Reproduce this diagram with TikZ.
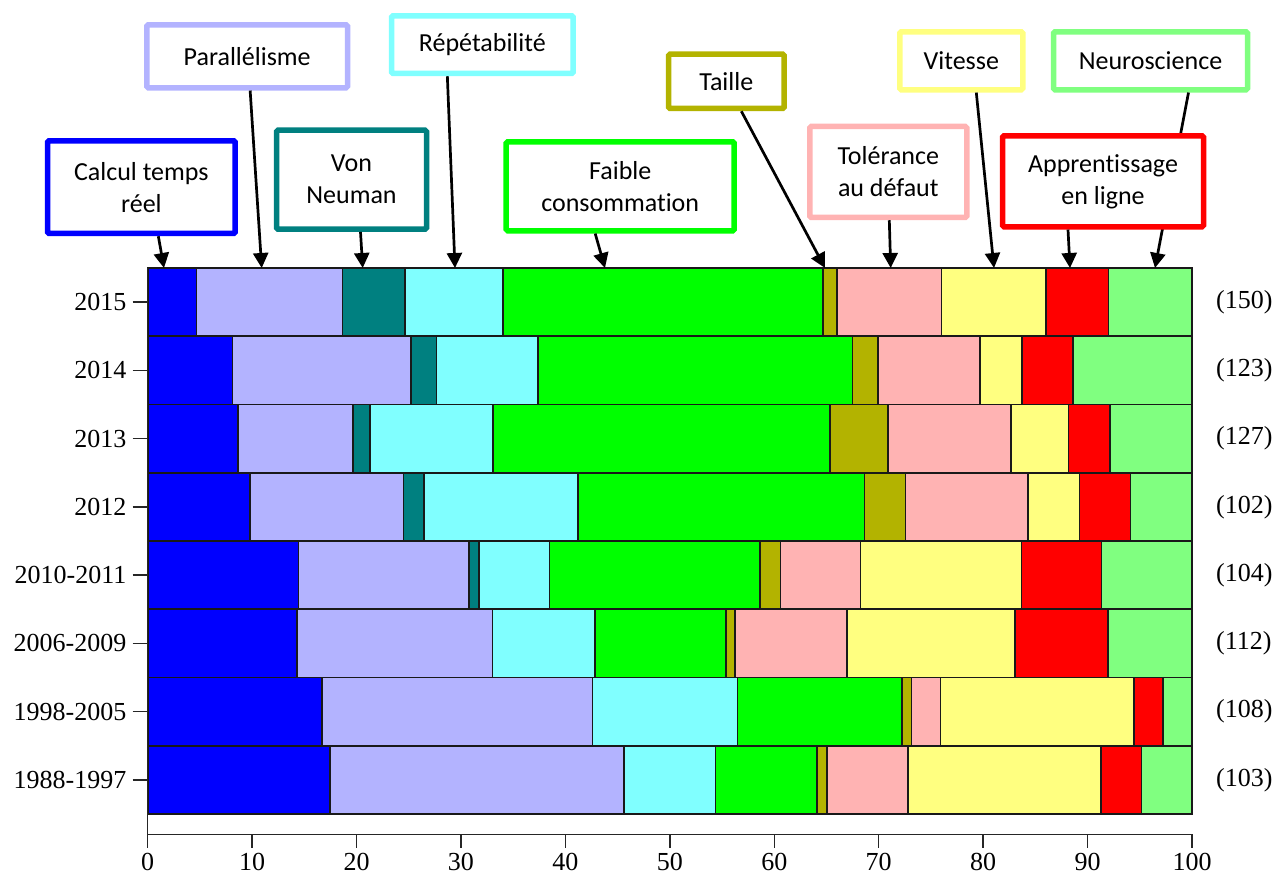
\documentclass[tikz,border=0pt]{standalone}
\usepackage{fontspec}
\setmainfont{Liberation Serif}
\newfontfamily\boxfont{Carlito}[Ligatures=NoCommon]
\usetikzlibrary{arrows.meta}

% category colours, left to right
\definecolor{cat1}{HTML}{0000FF}
\definecolor{cat2}{HTML}{B3B3FF}
\definecolor{cat3}{HTML}{008080}
\definecolor{cat4}{HTML}{80FFFF}
\definecolor{cat5}{HTML}{00FF00}
\definecolor{cat6}{HTML}{B3B300}
\definecolor{cat7}{HTML}{FFB3B3}
\definecolor{cat8}{HTML}{FFFF80}
\definecolor{cat9}{HTML}{FF0000}
\definecolor{cat10}{HTML}{80FF80}

\begin{document}
\begin{tikzpicture}[x=1pt,y=-1pt,
  seg/.style={draw=black!90,line width=1.6pt},
  axisline/.style={draw=black!85,line width=1.4pt},
  label box/.style={draw=#1,fill=white,line width=5.5pt,rounded corners=1.5pt,
    inner sep=0pt,align=center,font=\boxfont\fontsize{26}{32}\selectfont},
  pointer/.style={line width=2.7pt,-{Triangle[length=15pt,width=15pt]}},
  axislabel/.style={inner sep=0pt,font=\fontsize{26}{30}\selectfont}
]
\useasboundingbox (0,0) rectangle (1277,874);

% stacked bars: cumulative counts per category, with the row total
\foreach \r/\lab/\n/\cum in {
  0/2015/150/{7,28,37,51,97,99,114,129,138,150},
  1/2014/123/{10,31,34,46,83,86,98,103,109,123},
  2/2013/127/{11,25,27,42,83,90,105,112,117,127},
  3/2012/102/{10,25,27,42,70,74,86,91,96,102},
  4/2010-2011/104/{15,32,33,40,61,63,71,87,95,104},
  5/2006-2009/112/{16,37,37,48,62,63,75,93,103,112},
  6/1998-2005/108/{18,46,46,61,78,79,82,102,105,108},
  7/1988-1997/103/{18,47,47,56,66,67,75,94,98,103}} {
  \pgfmathsetmacro\rowtop{268+\r*68.25}
  \pgfmathsetmacro\rowbot{\rowtop+68.25}
  \pgfmathsetmacro\rowmid{\rowtop+34.125}
  \foreach \c [count=\k, remember=\c as \p (initially 0)] in \cum {
    \ifnum\c>\p
      \filldraw[seg,fill=cat\k] ({147.7+\p/\n*1044.3},\rowtop) rectangle ({147.7+\c/\n*1044.3},\rowbot);
    \fi
  }
  \draw[axisline] (132.7,\rowmid) -- (147.7,\rowmid);
  \node[axislabel,anchor=east] (year\r) at (126.5,\rowmid) {\lab};
  \node[axislabel,anchor=west] (count\r) at (1216,\rowmid) {(\n)};
}

% axes
\draw[axisline] (147.7,268) -- (147.7,836);
\draw[axisline] (147.7,834.3) -- (1192,834.3);
\foreach \v in {0,10,...,100} {
  \draw[axisline] ({147.7+\v*10.443},834.3) -- ({147.7+\v*10.443},848);
  \node[axislabel] (xt\v) at ({147.7+\v*10.443},862) {\v};
}

% arrow targets on the top edge of the bars
\coordinate (tcalc) at (164,268);
\coordinate (tpara) at (261.7,268);
\coordinate (tvonn) at (362.7,268);
\coordinate (trepe) at (455,268);
\coordinate (tfaib) at (605,268);
\coordinate (ttail) at (825,268);
\coordinate (ttole) at (890.7,268);
\coordinate (tvite) at (994,268);
\coordinate (tappr) at (1070,268);
\coordinate (tneur) at (1155,268);

% category labels
\node[label box=cat1,minimum width=187.7pt,minimum height=92.7pt] (calc) at (141.35,187.15) {Calcul temps\\réel};
\node[label box=cat2,minimum width=200.7pt,minimum height=63pt] (para) at (247.15,56.3) {Parallélisme};
\node[label box=cat3,minimum width=150pt,minimum height=99pt] (vonn) at (351.5,179.7) {Von\\Neuman};
\node[label box=cat4,minimum width=181.7pt,minimum height=57.7pt] (repe) at (482.35,44.65) {Répétabilité};
\node[label box=cat5,minimum width=228pt,minimum height=89pt] (faib) at (620.2,186.3) {Faible\\consommation};
\node[label box=cat6,minimum width=115.7pt,minimum height=54.3pt] (tail) at (726.35,81.35) {Taille};
\node[label box=cat7,minimum width=157pt,minimum height=91pt] (tole) at (888.3,172) {Tolérance\\au défaut};
\node[label box=cat8,minimum width=123pt,minimum height=58pt] (vite) at (961.3,60.8) {Vitesse};
\node[label box=cat10,minimum width=194pt,minimum height=58pt] (neur) at (1150.5,60.8) {Neuroscience};

% the Neuroscience pointer runs behind the Apprentissage box
\draw[pointer] ([xshift=38pt]neur.south) -- (tneur);
\node[label box=cat9,minimum width=201pt,minimum height=91pt] (appr) at (1103,181.3) {Apprentissage\\en ligne};

\draw[pointer] ([xshift=17pt]calc.south) -- (tcalc);
\draw[pointer] ([xshift=3pt]para.south) -- (tpara);
\draw[pointer] ([xshift=9pt]vonn.south) -- (tvonn);
\draw[pointer] ([xshift=-35pt]repe.south) -- (trepe);
\draw[pointer] ([xshift=-25pt]faib.south) -- (tfaib);
\draw[pointer] ([xshift=15pt]tail.south) -- (ttail);
\draw[pointer] ([xshift=1pt]tole.south) -- (ttole);
\draw[pointer] ([xshift=15pt]vite.south) -- (tvite);
\draw[pointer] ([xshift=-35pt]appr.south) -- (tappr);
\end{tikzpicture}
\end{document}
